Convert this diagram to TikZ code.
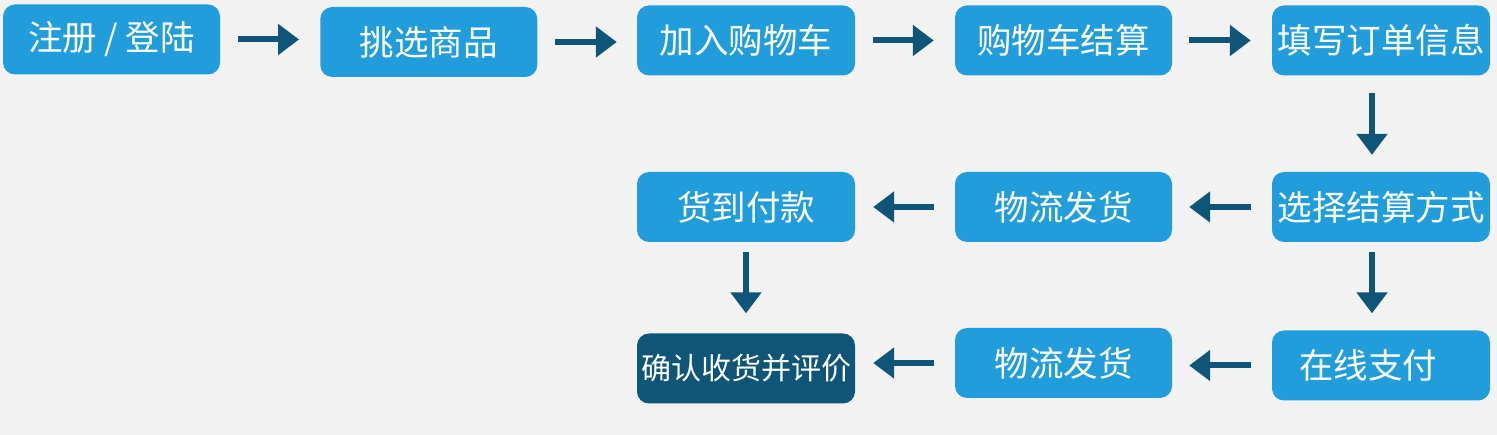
\documentclass[tikz,border=0pt]{standalone}
\usepackage{fontspec}
\setmainfont{Noto Sans CJK SC}
\usetikzlibrary{arrows.meta}
\definecolor{bg}{HTML}{F2F2F2}
\definecolor{boxblue}{HTML}{229DDB}
\definecolor{boxdark}{HTML}{0E5577}
\definecolor{arrowc}{HTML}{0F5577}
\tikzset{
  stepbox/.style={fill=boxblue, draw=none, rounded corners=12pt, minimum width=217pt, minimum height=70pt, inner sep=0pt, text=white, font=\fontsize{34.5}{40}\selectfont},
  darkbox/.style={stepbox, fill=boxdark, font=\fontsize{30}{36}\selectfont},
  flow/.style={draw=arrowc, line width=6pt, -{Triangle[length=21pt,width=30pt]}}
}
\begin{document}
\begin{tikzpicture}[x=1pt,y=-1pt]
\fill[bg] (0,0) rectangle (1497,435);
\useasboundingbox (0,0) rectangle (1497,435);
\node[stepbox] (b1) at (111.5,39.5) {注册 / 登陆};
\node[stepbox] (b2) at (428.75,42) {挑选商品};
\node[stepbox, minimum width=218pt] (b3) at (746,40.5) {加入购物车};
\node[stepbox] (b4) at (1063.5,40.5) {购物车结算};
\node[stepbox, minimum width=218pt] (b5) at (1381,40.5) {填写订单信息};
\node[stepbox, minimum width=218pt] (b6) at (1381,207) {选择结算方式};
\node[stepbox] (b7) at (1063.5,207) {物流发货};
\node[stepbox, minimum width=218pt] (b8) at (746,207) {货到付款};
\node[stepbox, minimum width=218pt] (b9) at (1381,365.5) {\hspace*{-26pt}在线支付};
\node[stepbox] (b10) at (1063.5,363) {物流发货};
\node[darkbox, minimum width=218pt] (b11) at (746,368.5) {确认收货并评价};
% top row
\draw[flow, shorten <=18pt, shorten >=21pt] (b1.east) -- (b1.east -| b2.west);
\draw[flow, shorten <=18pt, shorten >=20pt] (b2.east) -- (b2.east -| b3.west);
\draw[flow, shorten <=18pt, shorten >=21pt] (b3.east) -- (b3.east -| b4.west);
\draw[flow, shorten <=17pt, shorten >=21pt] (b4.east) -- (b4.east -| b5.west);
% right column
\draw[flow, shorten <=17pt, shorten >=17pt] ([xshift=-9pt]b5.south) -- ([xshift=-9pt]b6.north);
\draw[flow, shorten <=10pt, shorten >=17pt] ([xshift=-9pt]b6.south) -- ([xshift=-9pt]b9.north);
% row 2 leftwards
\draw[flow, shorten <=21pt, shorten >=17pt] (b6.west) -- (b7.east);
\draw[flow, shorten <=21pt, shorten >=18pt] (b7.west) -- (b8.east);
% left column down
\draw[flow, shorten <=10pt, shorten >=20pt] (b8.south) -- (b8.south |- b11.north);
% row 3 leftwards
\draw[flow, shorten <=21pt, shorten >=17pt] (b9.west) -- (b9.west -| b10.east);
\draw[flow, shorten <=21pt, shorten >=18pt] (b10.west) -- (b10.west -| b11.east);
\end{tikzpicture}
\end{document}
